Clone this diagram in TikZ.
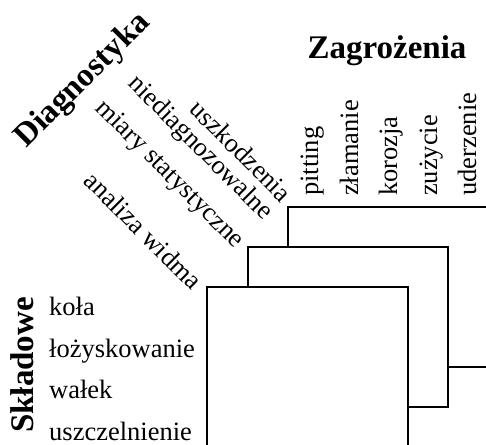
\documentclass[tikz,border=0pt]{standalone}
\usepackage{fontspec}
\setmainfont{Liberation Serif}
\usetikzlibrary{calc}
\begin{document}
\begin{tikzpicture}[x=1pt,y=-1pt,
  lbl/.style={font=\fontsize{26.5}{25}\selectfont, inner sep=0pt},
  hdr/.style={font=\fontsize{33}{33}\selectfont\bfseries, inner sep=0pt},
  diag/.style={lbl, rotate=-45, anchor=east, align=right},
  vlbl/.style={lbl, rotate=90, anchor=base west},
  rlbl/.style={lbl, anchor=base west},
  panel/.style={draw=black, fill=white, line width=1.8pt}]
\useasboundingbox (0,0) rectangle (486,444);
% panels (back to front)
\coordinate (c1) at (288,207);
\coordinate (c2) at (248,247);
\coordinate (c3) at (207,287);
\draw[panel] (c1) rectangle ++(205,160);
\draw[panel] (c2) rectangle ++(200,160);
\draw[panel] (c3) rectangle ++(201,160);
% headers
\node[hdr, anchor=base] (zag) at (387,59) {Zagrożenia};
\node[hdr, rotate=90, anchor=base] (skl) at (33,365) {Składowe};
\node[hdr, rotate=45, anchor=center] (diagn) at (83,81) {Diagnostyka};
% threats
\node[vlbl] (t1) at (318,196) {pitting};
\node[vlbl] (t2) at (358,196) {złamanie};
\node[vlbl] (t3) at (397,196) {korozja};
\node[vlbl] (t4) at (437,196) {zużycie};
\node[vlbl] (t5) at (476,196) {uderzenie};
% components
\node[rlbl] (s1) at (49,315) {koła};
\node[rlbl] (s2) at (49,357) {łożyskowanie};
\node[rlbl] (s3) at (49,398) {wałek};
\node[rlbl] (s4) at (49,440) {uszczelnienie};
% diagnostics
\node[diag] (d1) at ($(c1)+(-11,1)$) {uszkodzenia\\niediagnozowalne};
\node[diag] (d2) at ($(c2)+(-9,-2)$) {miary statystyczne};
\node[diag] (d3) at ($(c3)+(-9,-2)$) {analiza widma};
\end{tikzpicture}
\end{document}
